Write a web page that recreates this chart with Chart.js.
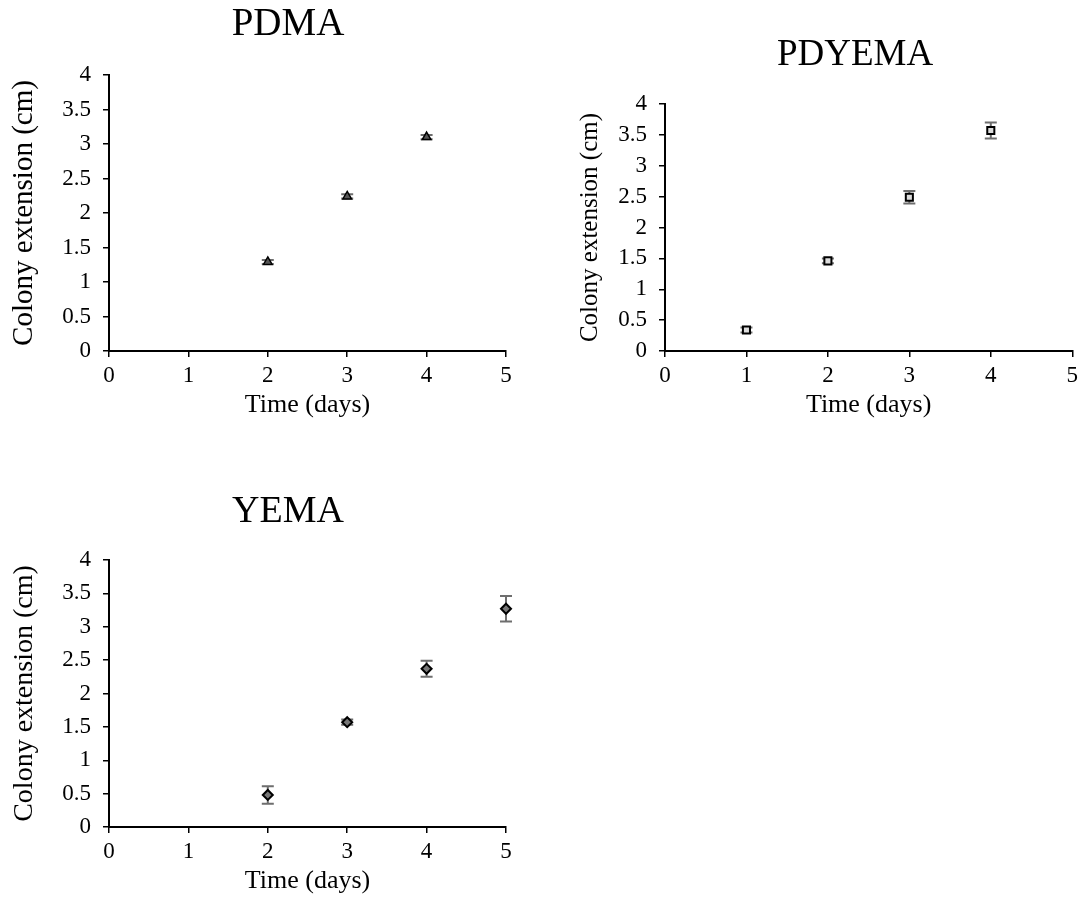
<!DOCTYPE html>
<html>
<head>
<meta charset="utf-8">
<script src="https://cdn.jsdelivr.net/npm/chart.js@4.4.1/dist/chart.umd.min.js"></script>
<style>
  html, body { margin: 0; padding: 0; background: #fff; overflow: hidden; }
  body { width: 1083px; height: 909px; position: relative; }
  .panel { position: absolute; }
</style>
</head>
<body>
<div class="panel" style="left:0px; top:0px; width:560px; height:430px;"><canvas id="pdmaChart"></canvas></div>
<div class="panel" style="left:556px; top:0px; width:527px; height:430px;"><canvas id="pdyemaChart"></canvas></div>
<div class="panel" style="left:0px; top:479px; width:560px; height:427px;"><canvas id="yemaChart"></canvas></div>

<script>
// ============================
// Colony extension data (mean ± error)
// ============================
const pdmaDays = [2, 3, 4];
const pdmaExt = [1.29, 2.24, 3.10];
const pdmaErr = [0.03, 0.03, 0.03];

const pdyemaDays = [1, 2, 3, 4];
const pdyemaExt = [0.34, 1.46, 2.49, 3.57];
const pdyemaErr = [0.04, 0.04, 0.10, 0.13];

const yemaDays = [2, 3, 4, 5];
const yemaExt = [0.48, 1.57, 2.37, 3.27];
const yemaErr = [0.13, 0.04, 0.12, 0.19];

const xTickValues = [0, 1, 2, 3, 4, 5];
const yTickValues = [0, 0.5, 1, 1.5, 2, 2.5, 3, 3.5, 4];

const xAxisLabel = "Time (days)";
const yAxisLabel = "Colony extension (cm)";

const serif = "'Liberation Serif', 'Times New Roman', serif";
Chart.defaults.font.family = serif;
Chart.defaults.color = "#000";

// Error bars drawn under the markers
const errorBarsPlugin = {
  id: "errorBars",
  beforeDatasetsDraw(chart) {
    const { ctx, scales: { x, y } } = chart;
    chart.data.datasets.forEach((ds) => {
      if (!ds.errors) return;
      ctx.save();
      ctx.strokeStyle = "#6e6e6e";
      ctx.lineWidth = 2;
      ds.data.forEach((pt, i) => {
        const e = ds.errors[i];
        const px = x.getPixelForValue(pt.x);
        const top = y.getPixelForValue(pt.y + e);
        const bot = y.getPixelForValue(pt.y - e);
        ctx.beginPath();
        ctx.moveTo(px, top);
        ctx.lineTo(px, bot);
        ctx.moveTo(px - 6, top);
        ctx.lineTo(px + 6, top);
        ctx.moveTo(px - 6, bot);
        ctx.lineTo(px + 6, bot);
        ctx.stroke();
      });
      ctx.restore();
    });
  }
};

// Panel heading, placed freely above the plot
const panelTitlePlugin = {
  id: "panelTitle",
  afterDraw(chart, args, opts) {
    const { ctx } = chart;
    ctx.save();
    ctx.font = opts.size + "px " + serif;
    ctx.fillStyle = "#000";
    ctx.textAlign = "center";
    ctx.textBaseline = "middle";
    ctx.fillText(opts.text, opts.x, opts.y);
    ctx.restore();
  }
};

function makePanel(canvasId, days, ext, err, marker, title, layout) {
  const canvas = document.getElementById(canvasId);
  const ctx = canvas.getContext("2d");

  return new Chart(ctx, {
    type: "scatter",
    data: {
      datasets: [{
        data: days.map((d, i) => ({ x: d, y: ext[i] })),
        errors: err,
        clip: false,
        pointStyle: marker.style,
        pointRadius: marker.radius,
        backgroundColor: marker.fill,
        borderColor: "#000",
        borderWidth: marker.border
      }]
    },
    options: {
      responsive: true,
      maintainAspectRatio: false,
      animation: false,
      layout: {
        padding: { top: layout.top, right: layout.right, left: 0, bottom: 0 }
      },
      plugins: {
        legend: { display: false },
        tooltip: { enabled: false },
        panelTitle: title
      },
      scales: {
        x: {
          type: "linear",
          min: 0,
          max: 5,
          afterBuildTicks(scale) {
            scale.ticks = xTickValues.map(v => ({ value: v }));
          },
          afterFit(scale) { scale.height = 79; },
          ticks: { font: { size: 23 }, color: "#000", padding: 5, callback: v => String(v) },
          grid: { drawOnChartArea: false, drawTicks: true, tickLength: 6, color: "#000", lineWidth: 1.5 },
          border: { color: "#000", width: 2 },
          title: {
            display: true,
            text: xAxisLabel,
            font: { size: 26 },
            color: "#000",
            padding: { top: 0, bottom: 9 }
          }
        },
        y: {
          type: "linear",
          min: 0,
          max: 4,
          afterBuildTicks(scale) {
            scale.ticks = yTickValues.map(v => ({ value: v }));
          },
          afterFit(scale) { scale.width = 109; },
          ticks: { font: { size: 23 }, color: "#000", padding: 12, callback: v => String(v) },
          grid: { drawOnChartArea: false, drawTicks: true, tickLength: 6, color: "#000", lineWidth: 1.5 },
          border: { color: "#000", width: 2 },
          title: {
            display: true,
            text: yAxisLabel,
            font: { size: layout.yTitleSize },
            color: "#000",
            padding: { top: layout.yTitlePad, bottom: 0 }
          }
        }
      }
    },
    plugins: [errorBarsPlugin, panelTitlePlugin]
  });
}

makePanel("pdmaChart", pdmaDays, pdmaExt, pdmaErr,
  { style: "triangle", radius: 5, fill: "#555", border: 1.5 },
  { text: "PDMA", x: 288, y: 25, size: 39 },
  { top: 75, right: 54, yTitleSize: 29, yTitlePad: 7 });

makePanel("pdyemaChart", pdyemaDays, pdyemaExt, pdyemaErr,
  { style: "rect", radius: 5, fill: "#ddd", border: 2 },
  { text: "PDYEMA", x: 299, y: 55, size: 37 },
  { top: 104, right: 8, yTitleSize: 25, yTitlePad: 19 });

makePanel("yemaChart", yemaDays, yemaExt, yemaErr,
  { style: "rectRot", radius: 5, fill: "#777", border: 2 },
  { text: "YEMA", x: 288, y: 33, size: 38 },
  { top: 81, right: 54, yTitleSize: 28, yTitlePad: 8 });
</script>
</body>
</html>
